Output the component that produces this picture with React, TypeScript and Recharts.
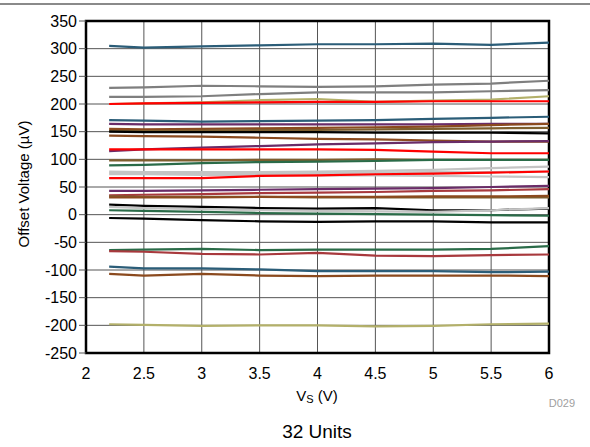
import { LineChart, Line, XAxis, YAxis, CartesianGrid, ReferenceArea } from "recharts";

const supplyV = [2.2, 2.5, 3, 3.5, 4, 4.5, 5, 5.5, 6];
const xTicks = [2, 2.5, 3, 3.5, 4, 4.5, 5, 5.5, 6];
const yTicks = [-250, -200, -150, -100, -50, 0, 50, 100, 150, 200, 250, 300, 350];

// offset voltage (uV) for each unit, one value per supply voltage
const units: number[][] = [
  [305, 302, 304, 306, 308, 308, 309, 307, 311],
  [229, 230, 233, 232, 231, 232, 235, 237, 242],
  [213, 213, 214, 218, 221, 221, 221, 223, 225],
  [200, 201, 203, 207, 209, 204, 206, 208, 214],
  [200, 201, 202, 203, 204, 204, 205, 205, 205],
  [171, 170, 168, 169, 170, 171, 173, 175, 177],
  [164, 163, 163, 163, 163, 163, 163, 164, 164],
  [155, 154, 155, 156, 157, 158, 159, 162, 164],
  [151, 151, 152, 153, 153, 154, 155, 156, 157],
  [150, 149, 149, 149, 149, 148, 148, 148, 147],
  [143, 142, 141, 139, 137, 136, 134, 132, 132],
  [115, 118, 121, 124, 127, 129, 131, 132, 133],
  [118, 118, 118, 118, 118, 117, 114, 111, 111],
  [98, 98, 98, 99, 99, 100, 99, 99, 99],
  [89, 90, 93, 95, 96, 97, 99, 99, 99],
  [78, 77, 77, 77, 78, 79, 81, 84, 87],
  [75, 75, 74, 74, 75, 76, 77, 77, 78],
  [73, 73, 72, 72, 71, 71, 70, 69, 68],
  [66, 66, 66, 70, 71, 73, 74, 76, 78],
  [43, 43, 44, 45, 46, 47, 48, 50, 52],
  [35, 36, 37, 39, 40, 41, 43, 44, 46],
  [33, 32, 32, 32, 31, 31, 31, 31, 31],
  [31, 31, 31, 32, 32, 32, 33, 33, 34],
  [18, 16, 14, 12, 11, 12, 8, 8, 11],
  [14, 12, 10, 8, 7, 6, 5, 8, 12],
  [8, 7, 5, 3, 2, 1, 0, -1, -2],
  [-6, -7, -10, -12, -13, -12, -12, -14, -14],
  [-64, -63, -62, -64, -63, -63, -63, -62, -57],
  [-66, -67, -71, -72, -69, -74, -75, -73, -72],
  [-94, -97, -97, -99, -102, -102, -102, -104, -103],
  [-107, -110, -107, -110, -111, -110, -110, -110, -111],
  [-198, -199, -201, -200, -200, -202, -201, -198, -197],
];

const unitColors = [
  "#2b5d78", "#7f7f7f", "#7f7f7f", "#b3b06a", "#ff0000", "#2b5d78", "#6a2c68", "#8b4a1e",
  "#7d5e2e", "#000000", "#8b4a1e", "#6a2c68", "#ff0000", "#7d5e2e", "#2a6b48", "#c4c4c4",
  "#c4c4c4", "#c4c4c4", "#ff0000", "#6a2c68", "#a8393d", "#7d5e2e", "#8b4a1e", "#000000",
  "#c4c4c4", "#2a6b48", "#000000", "#2a6b48", "#a8393d", "#2b5d78", "#8b4a1e", "#b3b06a",
];

const data = supplyV.map((v, i) => {
  const row: Record<string, number> = { v };
  units.forEach((u, k) => {
    row["u" + k] = u[i];
  });
  return row;
});

const font = "'Liberation Sans', Arial, sans-serif";

export default function App() {
  return (
    <div
      style={{
        position: "absolute",
        left: 0,
        top: 0,
        width: 590,
        height: 447,
        background: "#fff",
        fontFamily: font,
      }}
    >
      <div style={{ position: "absolute", left: 0, top: 3, width: 590, height: 2, background: "#8a8a8a" }} />
      <LineChart width={590} height={447} data={data} margin={{ top: 21, right: 41, bottom: 64, left: 0 }}>
        <CartesianGrid stroke="#555" strokeWidth={1} />
        <XAxis
          dataKey="v"
          type="number"
          domain={[2, 6]}
          ticks={xTicks}
          axisLine={false}
          tickLine={false}
          tickSize={0}
          tickMargin={15}
          height={30}
          tick={{ fontSize: 16, fill: "#000", fontFamily: font }}
        />
        <YAxis
          type="number"
          domain={[-250, 350]}
          ticks={yTicks}
          axisLine={false}
          tickLine={{ stroke: "#555" }}
          tickSize={7}
          tickMargin={2}
          width={86}
          tick={{ fontSize: 16, fill: "#000", fontFamily: font }}
        />
        {units.map((_, k) => (
          <Line
            key={k}
            dataKey={"u" + k}
            type="linear"
            stroke={unitColors[k]}
            strokeWidth={2.2}
            dot={false}
            activeDot={false}
            isAnimationActive={false}
          />
        ))}
        <ReferenceArea x1={2} x2={6} y1={-250} y2={350} fill="none" stroke="#000" strokeWidth={2.5} />
      </LineChart>
      <div
        style={{
          position: "absolute",
          left: 23,
          top: 184,
          transform: "translate(-50%, -50%) rotate(-90deg)",
          whiteSpace: "nowrap",
          fontSize: 15,
        }}
      >
        Offset Voltage (µV)
      </div>
      <div
        style={{
          position: "absolute",
          left: 317,
          top: 395,
          transform: "translate(-50%, -50%)",
          whiteSpace: "nowrap",
          fontSize: 15,
        }}
      >
        V<span style={{ fontSize: 11, position: "relative", top: 2 }}>S</span> (V)
      </div>
      <div
        style={{
          position: "absolute",
          right: 15,
          top: 403,
          transform: "translateY(-50%)",
          fontSize: 11,
          color: "#a0a0a0",
        }}
      >
        D029
      </div>
      <div
        style={{
          position: "absolute",
          left: 317,
          top: 432,
          transform: "translate(-50%, -50%)",
          whiteSpace: "nowrap",
          fontSize: 19,
        }}
      >
        32 Units
      </div>
    </div>
  );
}
